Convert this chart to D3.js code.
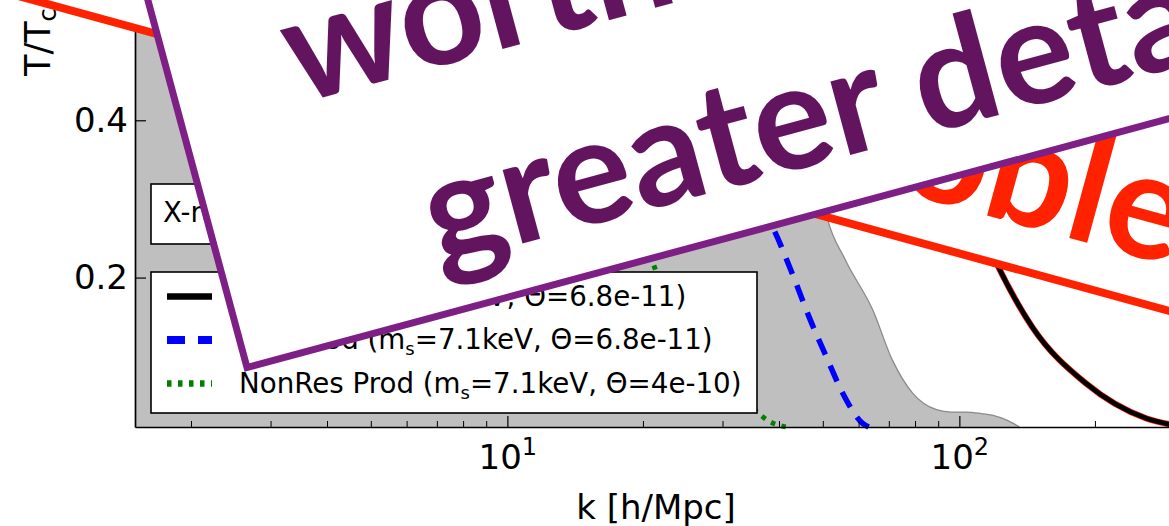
<!DOCTYPE html>
<html>
<head>
<meta charset="utf-8">
<script src="https://cdn.jsdelivr.net/npm/d3@7/dist/d3.min.js"></script>
<style>
  html, body { margin: 0; padding: 0; background: #fff; }
  svg { display: block; }
</style>
</head>
<body>
<svg id="fig" width="1169" height="526"></svg>
<script>
// ---- data: transfer functions T/T_cdm versus wavenumber k [h/Mpc] ----
const bandK  = [1.5, 20, 26, 32, 38, 44, 48, 51, 56, 64.3, 71.1, 78.8, 89, 96, 103.6, 112, 118.2, 128, 135.8];
const bandT  = [1.0, 1.0, 0.93, 0.78, 0.6, 0.45, 0.35, 0.276, 0.222, 0.159, 0.095, 0.053, 0.032, 0.029, 0.029, 0.027, 0.025, 0.018, 0.01];

const blackK = [1.5, 40, 50, 70, 85, 100, 110, 120.8, 145, 190, 259, 300];
const blackT = [1.0, 0.99, 0.95, 0.72, 0.52, 0.36, 0.27, 0.2185, 0.137, 0.066, 0.021, 0.012];

const blueK  = [1.5, 10, 15, 22, 28, 33, 40.4, 43.5, 46.5, 50.8, 55.1, 61, 63];
const blueT  = [1.0, 0.99, 0.95, 0.8, 0.55, 0.36, 0.239, 0.193, 0.150, 0.099, 0.054, 0.015, 0.01];

const greenK = [1.5, 8, 12, 16, 19, 21.2, 25, 29, 32, 35.2, 38, 41.4];
const greenT = [1.0, 0.95, 0.75, 0.5, 0.3, 0.212, 0.14, 0.085, 0.055, 0.032, 0.017, 0.01];

const xMajorTicks = [10, 100];
const xMinorTicks = [2, 3, 4, 5, 6, 7, 8, 9, 20, 30, 40, 50, 60, 70, 80, 90, 200, 300];
const xTickExponents = ["1", "2"];
const yTicks = [0.2, 0.4];

const legendNames  = ["Res Prod", "Res Prod", "NonRes Prod"];
const legendMasses = ["7keV", "7.1keV", "7.1keV"];
const legendThetas = ["6.8e-11", "6.8e-11", "4e-10"];
const noteLabel = "X-ray constraints";

// ---- scales ----
const svg = d3.select("#fig");
const x = d3.scaleLog().domain([1.5, 300]).range([135, 1175]);
const y = d3.scaleLinear().domain([0.01, 1.0]).range([427, -351.6]);

const FONT = "'DejaVu Sans', sans-serif";

// ---- allowed region (gray band) ----
const band = bandK.map((k, i) => [k, bandT[i]]);
svg.append("path")
  .datum(band)
  .attr("fill", "#bfbfbf")
  .attr("stroke", "none")
  .attr("d", d3.area().x(d => x(d[0])).y0(y(0.01)).y1(d => y(d[1])).curve(d3.curveMonotoneX));
svg.append("path")
  .datum(band)
  .attr("fill", "none")
  .attr("stroke", "#8a8a8a")
  .attr("stroke-width", 1.3)
  .attr("d", d3.line().x(d => x(d[0])).y(d => y(d[1])).curve(d3.curveMonotoneX));

const line = d3.line().x(d => x(d[0])).y(d => y(d[1])).curve(d3.curveMonotoneX);
const pairs = (ks, ts) => ks.map((k, i) => [k, ts[i]]);

// green dotted: non-resonant production
svg.append("path").datum(pairs(greenK, greenT))
  .attr("fill", "none").attr("stroke", "#008000").attr("stroke-width", 5)
  .attr("stroke-dasharray", "4.5,6.5").attr("d", line);

// blue dashed: resonant production
svg.append("path").datum(pairs(blueK, blueT))
  .attr("fill", "none").attr("stroke", "#0000ff").attr("stroke-width", 5.5)
  .attr("stroke-dasharray", "17,12").attr("d", line);

// black solid with thin red rim
svg.append("path").datum(pairs(blackK, blackT))
  .attr("fill", "none").attr("stroke", "#ff2000").attr("stroke-width", 6.2)
  .attr("d", line);
svg.append("path").datum(pairs(blackK, blackT))
  .attr("fill", "none").attr("stroke", "#000").attr("stroke-width", 4.8)
  .attr("d", line);

// ---- axes ----
const gx = svg.append("g").attr("transform", `translate(0,${y(0.01)})`)
  .call(d3.axisBottom(x).tickValues(xMajorTicks).tickSize(-11).tickSizeOuter(0).tickFormat(() => ""));
gx.append("g").selectAll("line").data(xMinorTicks).join("line")
  .attr("x1", d => x(d)).attr("x2", d => x(d)).attr("y1", 0).attr("y2", -6)
  .attr("stroke", "#000").attr("stroke-width", 1);
gx.selectAll(".tick text").remove();
gx.selectAll(".tick").each(function (d, i) {
  const t = d3.select(this).append("text")
    .attr("y", 42).attr("text-anchor", "middle").attr("fill", "#000")
    .style("font-family", FONT).style("font-size", "34px");
  t.append("tspan").text("10");
  t.append("tspan").attr("dy", -14).style("font-size", "24px").text(xTickExponents[i]);
});
gx.select(".domain").attr("stroke-width", 1.7);
gx.selectAll(".tick line").attr("stroke-width", 1.2);

const gy = svg.append("g").attr("transform", `translate(${x(1.5)},0)`)
  .call(d3.axisLeft(y).tickValues(yTicks).tickSize(-11).tickSizeOuter(0).tickPadding(7).tickFormat(d3.format(".1f")));
gy.selectAll(".tick text").style("font-family", FONT).style("font-size", "34px").attr("fill", "#000");
gy.select(".domain").attr("stroke-width", 1.7);
gy.selectAll(".tick line").attr("stroke-width", 1.2);

// axis titles
svg.append("text").attr("x", 656).attr("y", 519).attr("text-anchor", "middle")
  .style("font-family", FONT).style("font-size", "34px").text("k [h/Mpc]");
const yl = svg.append("text").attr("transform", "translate(50,76) rotate(-90)")
  .style("font-family", FONT).style("font-size", "35px");
yl.append("tspan").text("T/T");
yl.append("tspan").attr("dy", 6).style("font-size", "24px").text("cdm");

// ---- note box ----
const note = svg.append("g");
note.append("rect").attr("x", 151).attr("y", 184).attr("width", 330).attr("height", 60)
  .attr("fill", "#fff").attr("stroke", "#000").attr("stroke-width", 1.6);
note.append("text").attr("x", 163).attr("y", 222)
  .style("font-family", FONT).style("font-size", "27.5px").text(noteLabel);

// ---- legend ----
const lg = svg.append("g");
lg.append("rect").attr("x", 151).attr("y", 272).attr("width", 606).attr("height", 141)
  .attr("fill", "#fff").attr("stroke", "#000").attr("stroke-width", 1.6);
const rowY = [296.5, 340, 383.5];
const handles = [
  { stroke: "#000", width: 6.5, dash: null },
  { stroke: "#0000ff", width: 8, dash: "18,13" },
  { stroke: "#008000", width: 6.5, dash: "4.5,6.5" }
];
legendNames.forEach((name, i) => {
  const h = handles[i];
  lg.append("line").attr("x1", 167).attr("x2", 212).attr("y1", rowY[i]).attr("y2", rowY[i])
    .attr("stroke", h.stroke).attr("stroke-width", h.width)
    .attr("stroke-dasharray", h.dash);
  const t = lg.append("text").attr("x", 239).attr("y", rowY[i] + 9)
    .style("font-family", FONT).style("font-size", "27.7px");
  t.append("tspan").text(name + " (m");
  t.append("tspan").attr("dy", 6).style("font-size", "18px").text("s");
  t.append("tspan").attr("dy", -6).text("=" + legendMasses[i] + ", \u0398=" + legendThetas[i] + ")");
});

// ---- red callout ----
const red = svg.append("g").attr("transform", "translate(0,-9) rotate(15.3)");
red.append("rect").attr("x", -300).attr("y", -1200).attr("width", 2200).attr("height", 1200)
  .attr("fill", "#fff").attr("stroke", "#ff2200").attr("stroke-width", 8);
red.append("text").attr("x", 777).attr("y", -44)
  .style("font-family", "Lato, sans-serif").style("font-weight", 700).style("font-size", "150px")
  .attr("fill", "#ff2200").text("problem");

// ---- purple callout ----
const pur = svg.append("g").attr("transform", "translate(247,367.5) rotate(-15.1)");
pur.append("rect").attr("x", 0).attr("y", -1200).attr("width", 1800).attr("height", 1200)
  .attr("fill", "#fff").attr("stroke", "#7e1f86").attr("stroke-width", 7);
pur.append("text").attr("x", 118).attr("y", -241)
  .style("font-family", "Lato, sans-serif").style("font-weight", 700).style("font-size", "148px")
  .attr("fill", "#63145f").text("worth");
pur.append("text").attr("x", 211).attr("y", -48)
  .style("font-family", "Lato, sans-serif").style("font-weight", 700).style("font-size", "148px")
  .attr("fill", "#63145f").text("greater detail");
</script>
</body>
</html>
